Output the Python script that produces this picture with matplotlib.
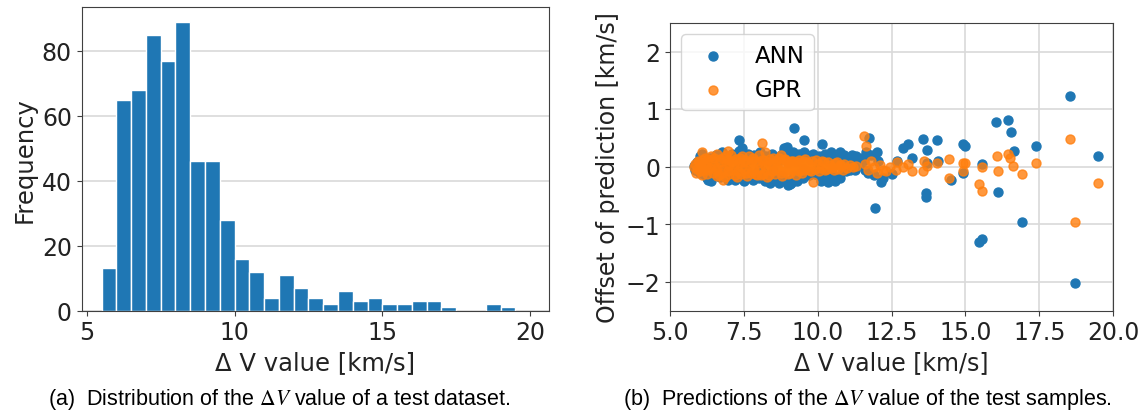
import matplotlib
matplotlib.use("Agg")
import matplotlib.pyplot as plt
import numpy as np

# histogram of the test dataset (bin width 0.5 km/s, starting at 5.5)
bin_left = np.arange(5.5, 19.5, 0.5)
counts = [13, 65, 68, 85, 77, 89, 46, 46, 28, 16, 12, 4, 11, 7,
          4, 2, 6, 3, 4, 2, 2, 3, 3, 1, 0, 0, 2, 1]

# prediction offsets, ANN
ann_x = [5.80, 5.85, 5.90, 5.95, 6.00, 6.02, 6.05, 6.10, 6.15, 6.20,
         6.25, 6.30, 6.35, 6.40, 6.45, 6.50, 6.55, 6.60, 6.65, 6.70,
         6.75, 6.80, 6.85, 6.90, 6.95, 7.00, 7.05, 7.10, 7.15, 7.20,
         7.25, 7.30, 7.35, 7.40, 7.45, 7.50, 7.55, 7.60, 7.65, 7.70,
         7.75, 7.80, 7.85, 7.90, 7.95, 8.00, 8.05, 8.10, 8.15, 8.20,
         8.25, 8.30, 8.35, 8.40, 8.45, 8.50, 8.55, 8.60, 8.65, 8.70,
         8.75, 8.80, 8.85, 8.90, 8.95, 9.00, 9.05, 9.10, 9.15, 9.20,
         9.25, 9.30, 9.35, 9.40, 9.45, 9.50, 9.55, 9.60, 9.65, 9.70,
         9.75, 9.80, 9.85, 9.90, 9.95, 10.00, 10.05, 10.10, 10.15, 10.20,
         10.25, 10.30, 10.35, 10.40, 10.45, 10.50, 10.55, 10.60, 10.65, 10.70,
         10.75, 10.80, 10.85, 10.90, 10.95, 11.00, 11.05, 11.10, 11.15, 11.20,
         11.25, 11.30, 6.30, 7.20, 8.20, 9.05, 9.10, 10.10, 10.35, 10.75,
         6.00, 6.50, 7.00, 7.50, 8.00, 8.50, 9.00, 9.50, 10.00, 10.50,
         7.35, 7.45, 8.85, 8.95, 9.20, 9.55, 10.15, 11.75, 11.65, 12.00,
         11.95, 12.15, 12.50, 12.70, 12.90, 13.05, 13.20, 13.55, 13.70, 13.65,
         13.67, 13.70, 14.05, 14.08, 14.50, 14.90, 15.00, 14.90, 15.45, 15.55,
         15.55, 16.05, 16.10, 16.45, 16.55, 16.65, 16.90, 17.40, 18.55, 18.70,
         19.50, 11.55, 11.60, 11.70, 11.80, 11.90, 12.05, 12.20, 11.40, 11.50]
ann_y = [0.02, -0.05, 0.08, -0.08, 0.18, -0.10, 0.05, 0.22, -0.12, 0.12,
         -0.20, 0.02, 0.15, -0.25, 0.08, -0.14, 0.20, -0.05, 0.12, -0.18,
         0.25, -0.10, 0.05, 0.18, -0.22, 0.10, -0.15, 0.22, -0.08, 0.15,
         -0.20, 0.05, 0.28, -0.12, 0.18, -0.25, 0.10, -0.05, 0.22, -0.18,
         0.12, -0.22, 0.20, -0.10, 0.15, -0.20, 0.25, -0.08, 0.12, -0.25,
         0.18, -0.15, 0.08, -0.28, 0.22, -0.12, 0.15, -0.22, 0.10, -0.28,
         0.20, -0.15, 0.28, -0.25, 0.12, -0.32, 0.18, -0.22, 0.25, -0.15,
         0.08, -0.25, 0.22, -0.10, 0.15, -0.20, 0.25, -0.05, 0.20, -0.15,
         0.12, -0.08, 0.22, -0.12, 0.10, -0.15, 0.18, -0.05, 0.12, -0.18,
         0.22, -0.10, 0.08, -0.20, 0.25, -0.12, 0.15, -0.25, 0.05, -0.18,
         0.25, 0.10, -0.05, 0.20, -0.08, 0.15, 0.05, -0.05, 0.20, 0.10,
         -0.05, 0.18, -0.22, -0.22, -0.20, -0.30, -0.28, -0.25, -0.27, -0.20,
         -0.02, 0.03, -0.05, 0.05, 0.00, -0.04, 0.06, -0.02, 0.03, 0.00,
         0.46, 0.33, 0.33, 0.35, 0.67, 0.46, 0.40, 0.50, 0.25, 0.25,
         -0.71, -0.27, -0.12, 0.10, 0.32, 0.40, 0.15, 0.48, 0.30, -0.45,
         -0.52, 0.07, 0.46, 0.10, -0.22, 0.40, 0.37, -0.10, -1.30, -1.26,
         0.05, 0.78, -0.44, 0.82, 0.60, 0.28, -0.95, 0.37, 1.24, -2.02,
         0.18, 0.12, -0.05, -0.10, 0.20, -0.15, 0.10, -0.20, 0.05, 0.15]

# prediction offsets, GPR
gpr_x = [5.80, 5.85, 5.90, 5.95, 6.00, 6.05, 6.10, 6.15, 6.20, 6.25,
         6.30, 6.35, 6.40, 6.45, 6.50, 6.55, 6.60, 6.65, 6.70, 6.75,
         6.80, 6.85, 6.90, 6.95, 7.00, 7.05, 7.10, 7.15, 7.20, 7.25,
         7.30, 7.35, 7.40, 7.45, 7.50, 7.55, 7.60, 7.65, 7.70, 7.75,
         7.80, 7.85, 7.90, 7.95, 8.00, 8.05, 8.10, 8.15, 8.20, 8.25,
         8.30, 8.35, 8.40, 8.45, 8.50, 8.55, 8.60, 8.65, 8.70, 8.75,
         8.80, 8.85, 8.90, 8.95, 9.00, 9.05, 9.10, 9.15, 9.20, 9.25,
         9.30, 9.35, 9.40, 9.45, 9.50, 9.55, 9.60, 9.65, 9.70, 9.75,
         9.80, 9.90, 10.00, 10.10, 10.20, 10.30, 10.40, 10.50, 10.60, 10.70,
         10.80, 10.90, 11.00, 11.10, 11.20, 11.30, 6.10, 6.95, 6.80, 8.10,
         8.75, 9.85, 6.20, 6.60, 7.00, 7.40, 7.80, 8.20, 8.60, 9.00,
         5.88, 5.98, 6.08, 6.18, 6.28, 6.38, 6.48, 6.58, 6.68, 6.78,
         6.88, 6.98, 7.08, 7.18, 7.28, 7.38, 7.48, 7.58, 7.68, 7.78,
         7.88, 7.98, 8.08, 8.18, 8.28, 8.38, 8.48, 8.58, 8.68, 8.78,
         8.88, 8.98, 9.08, 9.18, 9.28, 9.38, 9.48, 9.58, 9.68, 9.78,
         9.95, 10.05, 10.15, 10.25, 10.35, 10.45, 10.55, 10.65, 10.75, 10.85,
         11.55, 11.65, 11.60, 11.70, 11.80, 11.90, 12.00, 12.10, 12.20, 12.30,
         12.45, 12.65, 12.70, 12.90, 13.05, 13.20, 13.55, 13.60, 13.70, 14.05,
         14.45, 14.45, 14.90, 15.00, 14.90, 15.45, 15.55, 15.55, 16.06, 16.10,
         16.45, 16.50, 16.60, 16.90, 17.40, 18.55, 18.72, 19.48]
gpr_y = [0.00, 0.05, -0.04, 0.10, -0.08, 0.03, 0.12, -0.06, 0.08, -0.12,
         0.14, -0.02, 0.10, -0.10, 0.15, -0.05, 0.22, -0.14, 0.08, -0.10,
         0.15, -0.18, 0.05, 0.12, -0.12, 0.20, -0.05, 0.10, -0.15, 0.14,
         -0.08, 0.06, -0.12, 0.18, -0.04, 0.12, -0.16, 0.08, 0.02, -0.10,
         0.16, -0.06, 0.10, -0.14, 0.20, -0.02, 0.12, -0.12, 0.25, -0.05,
         0.08, -0.15, 0.14, -0.08, 0.05, -0.12, 0.10, -0.03, 0.16, -0.10,
         0.05, -0.08, 0.12, -0.05, 0.08, -0.10, 0.04, 0.10, -0.06, 0.02,
         0.08, -0.08, 0.05, -0.03, 0.10, -0.06, 0.03, 0.08, -0.05, 0.02,
         0.10, -0.04, 0.05, -0.02, 0.08, -0.04, 0.04, 0.00, 0.06, -0.03,
         0.03, 0.05, -0.02, 0.04, 0.00, 0.02, 0.25, 0.27, -0.22, 0.42,
         0.21, -0.27, 0.00, -0.02, 0.04, 0.00, -0.03, 0.02, -0.02, 0.00,
         -0.10, 0.08, -0.14, 0.16, -0.06, 0.18, 0.02, -0.16, 0.14, -0.04,
         0.20, -0.08, 0.10, 0.02, -0.18, 0.16, 0.08, -0.10, 0.18, 0.10,
         -0.12, 0.06, -0.14, 0.12, -0.18, 0.04, 0.16, -0.06, 0.08, -0.16,
         0.14, -0.12, 0.10, -0.02, -0.14, 0.12, -0.10, 0.14, 0.06, -0.08,
         0.12, -0.08, 0.10, -0.06, 0.08, -0.02, -0.06, 0.08, 0.04, -0.05,
         0.53, 0.37, 0.05, -0.05, 0.10, 0.00, -0.10, 0.03, -0.05, -0.08,
         0.00, -0.05, 0.08, 0.00, 0.05, -0.08, -0.07, 0.10, 0.02, 0.06,
         0.13, -0.19, 0.07, 0.06, -0.08, -0.30, -0.42, 0.00, 0.18, -0.07,
         0.23, 0.15, 0.02, -0.13, 0.06, 0.48, -0.95, -0.28]

plt.rcParams['font.family'] = ['DejaVu Sans']
plt.rcParams['axes.edgecolor'] = '#404040'
plt.rcParams['xtick.color'] = '#404040'
plt.rcParams['ytick.color'] = '#404040'
plt.rcParams['xtick.labelcolor'] = '#222222'
plt.rcParams['ytick.labelcolor'] = '#222222'

fig = plt.figure(figsize=(11.46, 4.14), dpi=100)

# (a) histogram
ax1 = fig.add_axes([0.0713, 0.2471, 0.4080, 0.7329])
ax1.bar(bin_left, counts, width=0.5, align='edge', color='#1f77b4',
        edgecolor='white', linewidth=1.0, zorder=2)
ax1.set_xlim(4.83, 20.65)
ax1.set_ylim(0, 93.45)
ax1.set_xticks([5, 10, 15, 20])
ax1.set_yticks([0, 20, 40, 60, 80])
ax1.grid(axis='y', color='#d9d9d9', linewidth=1.2, zorder=0)
ax1.set_axisbelow(True)
ax1.tick_params(labelsize=17)
ax1.set_xlabel('Δ V value [km/s]', fontsize=17.5, color='#222222')
ax1.set_ylabel('Frequency', fontsize=17.5, color='#222222')

# (b) scatter of prediction offsets
ax2 = fig.add_axes([0.5846, 0.2471, 0.3868, 0.6949])
ax2.scatter(ann_x, ann_y, s=42, color='#1f77b4', label='ANN', zorder=2)
ax2.scatter(gpr_x, gpr_y, s=42, color='#ff7f0e', alpha=0.8, label='GPR', zorder=3)
ax2.set_xlim(5.0, 20.0)
ax2.set_ylim(-2.5, 2.5)
ax2.set_xticks([5.0, 7.5, 10.0, 12.5, 15.0, 17.5, 20.0])
ax2.set_yticks([-2, -1, 0, 1, 2])
ax2.grid(color='#d9d9d9', linewidth=1.2)
ax2.set_axisbelow(True)
ax2.tick_params(labelsize=17)
ax2.set_xlabel('Δ V value [km/s]', fontsize=17, color='#222222')
ax2.set_ylabel('Offset of prediction [km/s]', fontsize=17, color='#222222')
ax2.legend(loc='upper left', fontsize=16.5)

# sub-captions
fig.text(0.2435, 0.034, r'(a)  Distribution of the $\Delta V$ value of a test dataset.',
         ha='center', va='center', fontsize=15.5, family='Liberation Sans',
         math_fontfamily='stix')
fig.text(0.757, 0.034, r'(b)  Predictions of the $\Delta V$ value of the test samples.',
         ha='center', va='center', fontsize=15.5, family='Liberation Sans',
         math_fontfamily='stix')

fig.savefig('out.png', dpi=100)
